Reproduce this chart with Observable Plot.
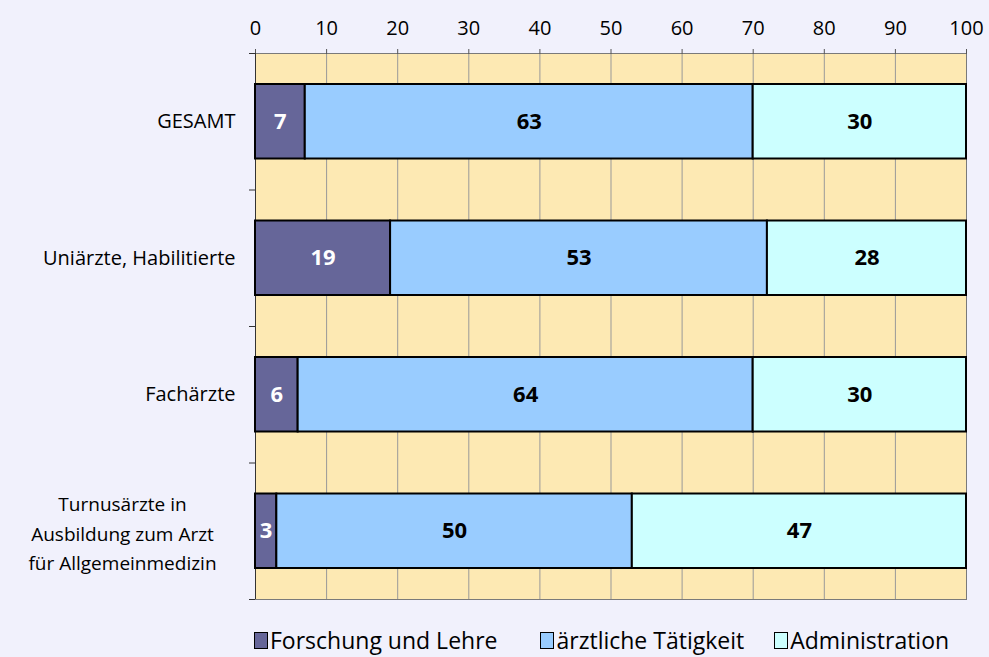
<!DOCTYPE html>
<html><head><meta charset="utf-8">
<script src="https://cdn.jsdelivr.net/npm/d3@7"></script>
<script src="https://cdn.jsdelivr.net/npm/@observablehq/plot@0.6"></script>
<style>
body{margin:0;background:#f1f1fc;font-family:"Open Sans",sans-serif;}
#wrap{position:relative;width:989px;height:657px;}
#legend{position:absolute;left:254px;top:624px;display:flex;font-size:23px;color:#000;}
.item{display:flex;align-items:center;}
.sw{width:12px;height:15px;border:1.5px solid #000;margin-right:2px;}
</style></head>
<body><div id="wrap"><div id="chart"></div><div id="legend"></div></div>
<script>
const categories = ["GESAMT", "Uniärzte, Habilitierte", "Fachärzte", "Turnusärzte in\nAusbildung zum Arzt\nfür Allgemeinmedizin"];
const series = ["Forschung und Lehre", "ärztliche Tätigkeit", "Administration"];
const forschung = [7, 19, 6, 3];
const aerztlich = [63, 53, 64, 50];
const administration = [30, 28, 30, 47];
const xTicks = [0, 10, 20, 30, 40, 50, 60, 70, 80, 90, 100];
const colors = ["#666699", "#99ccff", "#ccffff"];
const labelColors = ["#ffffff", "#000000", "#000000"];

const values = [forschung, aerztlich, administration];
const segs = [];
categories.forEach((c, i) => {
  let acc = 0;
  values.forEach((arr, s) => {
    segs.push({i, s, cat: c, series: series[s], v: arr[i], x1: acc, x2: acc + arr[i]});
    acc += arr[i];
  });
});
const rows = categories.map((c, i) => ({i, c}));

const chart = Plot.plot({
  width: 989, height: 612,
  marginLeft: 255, marginRight: 23, marginTop: 53, marginBottom: 13,
  style: {fontFamily: "Open Sans, sans-serif", background: "transparent"},
  x: {domain: [0, 100]},
  y: {domain: [0, 4], reverse: true},
  color: {domain: series, range: colors},
  marks: [
    Plot.frame({fill: "#fde9b3"}),
    Plot.ruleX(xTicks.slice(1, -1), {stroke: "#999999", strokeWidth: 1}),
    Plot.frame({stroke: "#7a7a7a", strokeWidth: 1}),
    Plot.axisX({anchor: "top", ticks: xTicks, tickSize: 5, tickPadding: 14, label: null, fontSize: 20, stroke: "#555", fill: "#000"}),
    Plot.axisY({ticks: [0, 1, 2, 3, 4], tickFormat: () => "", tickSize: 6, label: null, stroke: "#333"}),
    Plot.ruleX([0], {stroke: "#333"}),
    Plot.rectX(segs, {x1: "x1", x2: "x2", y1: d => d.i, y2: d => d.i + 1, insetTop: 31, insetBottom: 31, fill: d => colors[d.s], stroke: "#000", strokeWidth: 2}),
    Plot.text(segs, {x: d => (d.x1 + d.x2) / 2, y: d => d.i + 0.5, text: d => String(d.v), fill: d => labelColors[d.s], fontWeight: "bold", fontSize: 22}),
    Plot.text(rows.filter(d => !d.c.includes("\n")), {x: 0, y: d => d.i + 0.5, text: "c", textAnchor: "end", dx: -20, fontSize: 20, fill: "#000"}),
    Plot.text(rows.filter(d => d.c.includes("\n")), {x: 0, y: d => d.i + 0.5, text: "c", textAnchor: "middle", dx: -133, fontSize: 19, lineHeight: 1.55, fill: "#000"})
  ]
});
document.getElementById("chart").appendChild(chart);

const leg = document.getElementById("legend");
const gaps = [43, 30, 0];
series.forEach((s, k) => {
  const it = document.createElement("div"); it.className = "item"; it.style.marginRight = gaps[k] + "px";
  const sw = document.createElement("div"); sw.className = "sw"; sw.style.background = colors[k];
  const t = document.createElement("span"); t.textContent = s;
  it.appendChild(sw); it.appendChild(t); leg.appendChild(it);
});
</script></body></html>
